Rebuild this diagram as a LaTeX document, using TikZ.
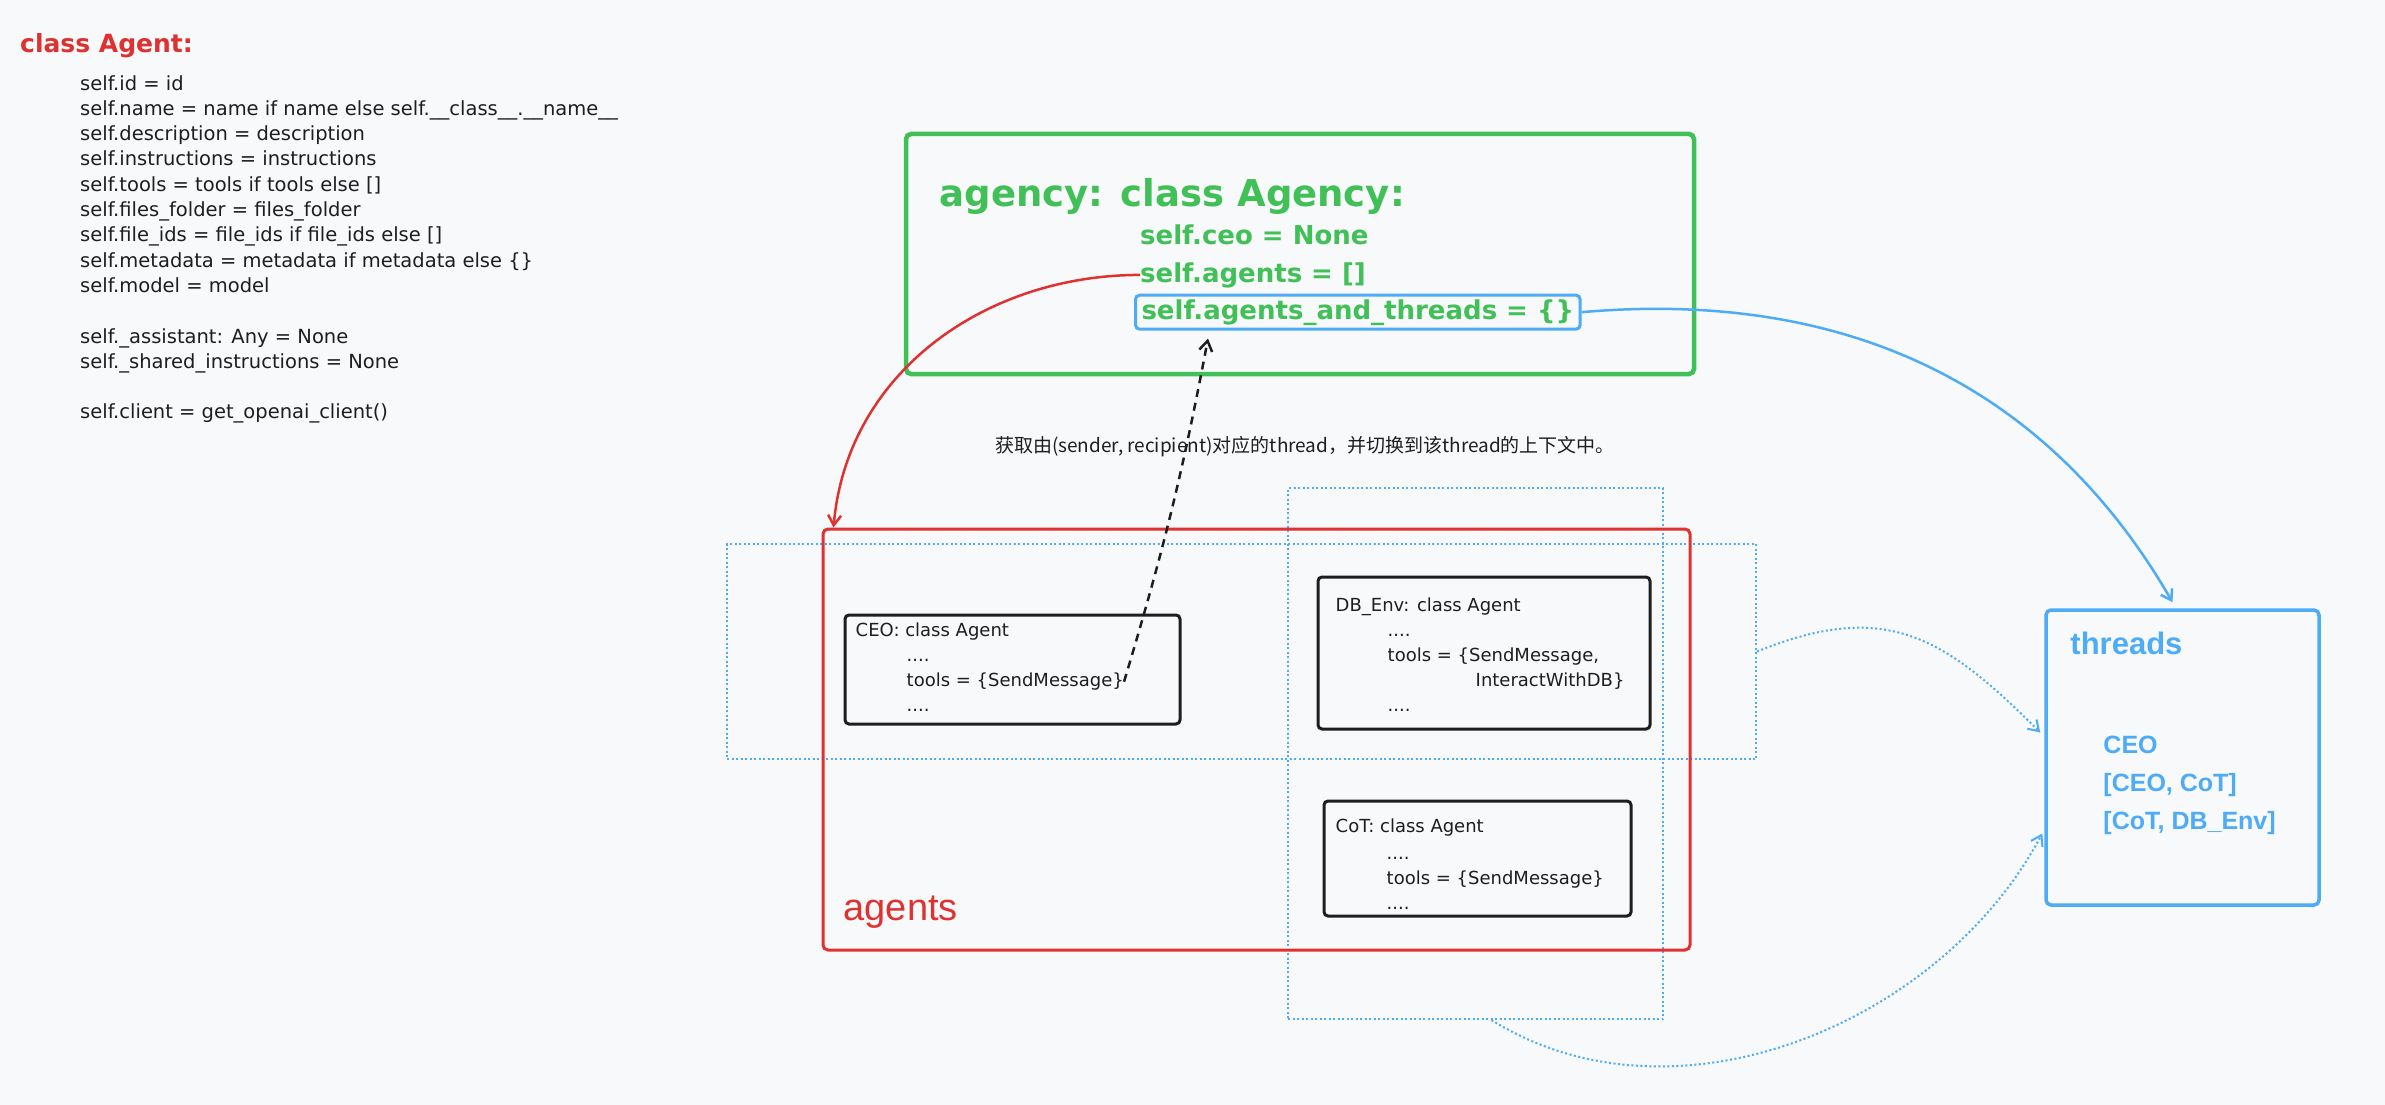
\documentclass[tikz,border=0pt]{standalone}
\usepackage{fontspec}
\setmainfont{DejaVu Sans}
\newfontfamily\labelfont{Liberation Sans}
\newfontfamily\cjkfont{Noto Sans CJK SC}
\usepackage{tikz}
\usetikzlibrary{arrows.meta, positioning}
\definecolor{agencygreen}{HTML}{40C057}
\definecolor{agentred}{HTML}{E03131}
\definecolor{threadblue}{HTML}{4DABF7}
\definecolor{ink}{HTML}{1E1E1E}
\definecolor{paper}{HTML}{F8F9FB}
\tikzstyle{boxbase}    = [rectangle, rounded corners=5pt, inner sep=0pt]
\tikzstyle{agencybox}  = [boxbase, draw=agencygreen, line width=4.5pt]
\tikzstyle{agentsbox}  = [boxbase, draw=agentred, line width=3pt]
\tikzstyle{agentbox}   = [boxbase, draw=ink, line width=3pt, rounded corners=4pt]
\tikzstyle{threadsbox} = [boxbase, draw=threadblue, line width=3.5pt]
\tikzstyle{scopebox}   = [rectangle, inner sep=0pt, draw=threadblue, line width=2pt,
                          dash pattern=on 2pt off 2.5pt]
\tikzstyle{codetext}   = [inner sep=0pt, align=left, text=ink,
                          font=\fontsize{19.5}{25.3}\selectfont]
\tikzstyle{agenttext}  = [inner sep=0pt, align=left, text=ink,
                          font=\fontsize{18}{25}\selectfont]
\tikzstyle{fieldtext}  = [inner sep=0pt, text=agencygreen,
                          font=\bfseries\fontsize{26}{37}\selectfont]
\tikzstyle{threadtext} = [inner sep=0pt, align=left, text=threadblue,
                          font=\labelfont\bfseries\fontsize{25}{38}\selectfont]
\tikzstyle{arrow}      = [-{Straight Barb[length=10pt, width=13pt]}, line width=2.5pt]
\tikzstyle{scopearrow} = [-{Straight Barb[length=10pt, width=13pt]}, draw=threadblue,
                          line width=2pt, dash pattern=on 2pt off 2.5pt]

\begin{document}
\begin{tikzpicture}[x=1pt, y=1pt]

  %% Canvas
  \useasboundingbox (0,0) rectangle (2385,-1105);
  \fill[paper] (0,0) rectangle (2385,-1105);

  %% Agent class
  \node[anchor=base west, inner sep=0pt, text=agentred,
        font=\bfseries\fontsize{25}{30}\selectfont] (agentclass) at (20,-53)
        {class Agent:};
  \node[codetext, below right=22pt and 60pt of agentclass.base west] (agentcode)
        {self.id = id\\
         self.name = name if name else self.\_\_class\_\_.\_\_name\_\_\\
         self.description = description\\
         self.instructions = instructions\\
         self.tools = tools if tools else []\\
         self.files\_folder = files\_folder\\
         self.file\_ids = file\_ids if file\_ids else []\\
         self.metadata = metadata if metadata else \{\}\\
         self.model = model\\[25.3pt]
         self.\_assistant: Any = None\\
         self.\_shared\_instructions = None\\[25.3pt]
         self.client = get\_openai\_client()};

  %% Scopes
  \node[scopebox, minimum width=1029pt, minimum height=215pt] (hscope) at (1241.5,-651.5) {};
  \node[scopebox, minimum width=375pt, minimum height=531pt] (vscope) at (1475.5,-753.5) {};

  %% Agency
  \node[agencybox, minimum width=788pt, minimum height=240pt] (agency) at (1300,-254) {};
  \node[fieldtext, font=\bfseries\fontsize{37}{44}\selectfont,
        below right=75pt and 36pt of agency.north west, anchor=base west] (agencytitle)
        {agency: class Agency:};
  \node[fieldtext, anchor=base west] (ceofield) at (1140,-244) {self.ceo = None};
  \node[fieldtext, below=38pt of ceofield.base west, anchor=base west] (agentsfield)
        {self.agents = []};
  \node[fieldtext, draw=threadblue, line width=3pt, rounded corners=4pt,
        inner xsep=6pt, inner ysep=4pt,
        below=37pt of agentsfield.base west, anchor=base west, xshift=-6pt] (aatfield)
        {self.agents\_and\_threads = \{\}};

  \node[inner sep=0pt, text=ink, font=\cjkfont\fontsize{19}{23}\selectfont] (hint)
        at (1305,-447) {获取由(sender, recipient)对应的thread，并切换到该thread的上下文中。};

  %% Agents
  \node[agentsbox, minimum width=867pt, minimum height=421pt] (agents) at (1256.5,-739.5) {};
  \node[inner sep=0pt, text=agentred, font=\labelfont\fontsize{38}{44}\selectfont,
        above right=31pt and 22pt of agents.south west, anchor=base west] (agentslabel)
        {agents};

  \node[agentbox, minimum width=335pt, minimum height=109pt] (ceobox) at (1012.5,-669.5) {};
  \node[agenttext, below right=23pt and 12pt of ceobox.north west, anchor=base west]
        (ceotitle) {CEO: class Agent};
  \node[agenttext, below right=7.5pt and 51pt of ceotitle.base west] (ceobody)
        {\strut....\\\strut tools = \{SendMessage\}\\\strut....};

  \node[agentbox, minimum width=332pt, minimum height=152pt] (dbbox) at (1484,-653) {};
  \node[agenttext, below right=36pt and 19pt of dbbox.north west, anchor=base west]
        (dbtitle) {DB\_Env: class Agent};
  \node[agenttext, below right=7pt and 52pt of dbtitle.base west] (dbbody)
        {\strut....\\\strut tools = \{SendMessage,\\
         \strut\hspace*{88pt}InteractWithDB\}\\\strut....};

  \node[agentbox, minimum width=307pt, minimum height=115pt] (cotbox) at (1477.5,-858.5) {};
  \node[agenttext, below right=33pt and 13pt of cotbox.north west, anchor=base west]
        (cottitle) {CoT: class Agent};
  \node[agenttext, below right=9pt and 51pt of cottitle.base west] (cotbody)
        {\strut....\\\strut tools = \{SendMessage\}\\\strut....};

  %% Threads
  \node[threadsbox, minimum width=273pt, minimum height=295pt] (threads) at (2182.5,-757.5) {};
  \node[threadtext, font=\labelfont\bfseries\fontsize{31}{36}\selectfont,
        below right=46pt and 26pt of threads.north west, anchor=base west] (threadstitle)
        {threads};
  \node[threadtext, below right=72.4pt and 33pt of threadstitle.base west] (threadlist)
        {\strut CEO\\\strut [CEO, CoT]\\\strut [CoT, DB\_Env]};

  %% Arrows
  \draw[arrow, agentred] (agentsfield.west) to[out=180, in=85]
        ([xshift=12pt]agents.north west);
  \draw[arrow, ink, dash pattern=on 8pt off 6pt] (ceobody.east) to[bend right=3]
        ([xshift=74pt, yshift=-8pt]aatfield.south west);
  \draw[arrow, threadblue] (aatfield.east) to[out=5, in=120]
        ([xshift=-10pt, yshift=6pt]threads.north);
  \draw[scopearrow] (hscope.east) to[out=22, in=135, looseness=1.2]
        ([xshift=-4pt, yshift=25pt]threads.west);
  \draw[scopearrow] ([xshift=16pt]vscope.south) to[out=-32, in=-118, looseness=0.95]
        ([xshift=-2pt, yshift=-76pt]threads.west);

\end{tikzpicture}
\end{document}
